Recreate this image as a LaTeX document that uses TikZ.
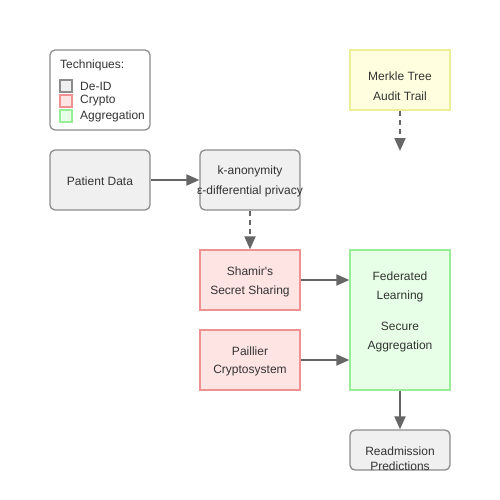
\documentclass[tikz,border=0pt]{standalone}
\usepackage{fontspec}
\setmainfont{Liberation Sans}
\usetikzlibrary{arrows.meta}
\definecolor{txt}{HTML}{333333}
\definecolor{grayfill}{HTML}{F0F0F0}
\definecolor{grayline}{HTML}{8C8C8C}
\definecolor{redfill}{HTML}{FFE4E4}
\definecolor{redline}{HTML}{F09090}
\definecolor{greenfill}{HTML}{E6FFE6}
\definecolor{greenline}{HTML}{98EE98}
\definecolor{yelfill}{HTML}{FFFFE0}
\definecolor{yelline}{HTML}{EEEE99}
\definecolor{arr}{HTML}{666666}
\begin{document}
\begin{tikzpicture}[x=1pt,y=-1pt,
  every node/.style={font=\fontsize{12}{14}\selectfont, text=txt},
  box/.style={draw, line width=1.3pt, minimum width=100pt, inner sep=0pt, align=center},
  deid/.style={box, draw=grayline, fill=grayfill, rounded corners=5pt},
  crypto/.style={box, draw=redline, fill=redfill},
  aggr/.style={box, draw=greenline, fill=greenfill},
  audit/.style={box, draw=yelline, fill=yelfill},
  conn/.style={draw=arr, line width=2pt, -{Triangle[length=13pt,width=11pt]}},
  dconn/.style={conn, dash pattern=on 5pt off 4pt},
  sq/.style={line width=1.1pt, minimum size=12pt, inner sep=0pt}
]
\useasboundingbox (0,0) rectangle (500,500);
% legend
\node[draw=grayline, line width=1.3pt, rounded corners=5pt, minimum width=100pt, minimum height=80pt, inner sep=0pt] (legend) at (100,90) {};
\node[anchor=west, inner sep=0pt] (legt) at (60,65) {Techniques:};
\node[sq, draw=grayline, fill=grayfill] (sq1) at (66,86) {};
\node[sq, draw=redline, fill=redfill] (sq2) at (66,101) {};
\node[sq, draw=greenline, fill=greenfill] (sq3) at (66,116) {};
\node[anchor=west, inner sep=0pt] (l1) at (80,86) {De-ID};
\node[anchor=west, inner sep=0pt] (l2) at (80,101) {Crypto};
\node[anchor=west, inner sep=0pt] (l3) at (80,116) {Aggregation};
% nodes
\node[deid, minimum height=60pt] (patient) at (100,180) {};
\node[inner sep=0pt] (patientt) at (100,181) {Patient Data};
\node[deid, minimum height=60pt] (kanon) at (250,180) {};
\node[inner sep=0pt] (k1) at (250,171) {k-anonymity};
\node[inner sep=0pt] (k2) at (250,191) {ε-differential privacy};
\node[audit, minimum height=60pt] (merkle) at (400,80) {};
\node[inner sep=0pt] (m1) at (400,76) {Merkle Tree};
\node[inner sep=0pt] (m2) at (400,96) {Audit Trail};
\coordinate (mend) at (400,151);
\node[crypto, minimum height=60pt] (shamir) at (250,280) {};
\node[inner sep=0pt] (s1) at (250,271) {Shamir\textquotesingle s};
\node[inner sep=0pt] (s2) at (250,291) {Secret Sharing};
\node[crypto, minimum height=60pt] (paillier) at (250,360) {};
\node[inner sep=0pt] (p1) at (250,351) {Paillier};
\node[inner sep=0pt] (p2) at (250,371) {Cryptosystem};
\node[aggr, minimum height=140pt] (fed) at (400,320) {};
\node[inner sep=0pt] (f1) at (400,276) {Federated};
\node[inner sep=0pt] (f2) at (400,296) {Learning};
\node[inner sep=0pt] (f3) at (400,326) {Secure};
\node[inner sep=0pt] (f4) at (400,346) {Aggregation};
\node[deid, minimum height=40pt] (readm) at (400,450) {};
\node[inner sep=0pt] (r1) at (400,451) {Readmission};
\node[inner sep=0pt] (r2) at (400,466) {Predictions};
% connectors
\draw[conn] (patient.east) -- (kanon.west);
\draw[dconn] (kanon.south) -- (shamir.north);
\draw[dconn] (merkle.south) -- (mend);
\draw[conn] (shamir.east) -- (fed.west |- shamir.east);
\draw[conn] (paillier.east) -- (fed.west |- paillier.east);
\draw[conn] (fed.south) -- (readm.north);
\end{tikzpicture}
\end{document}
